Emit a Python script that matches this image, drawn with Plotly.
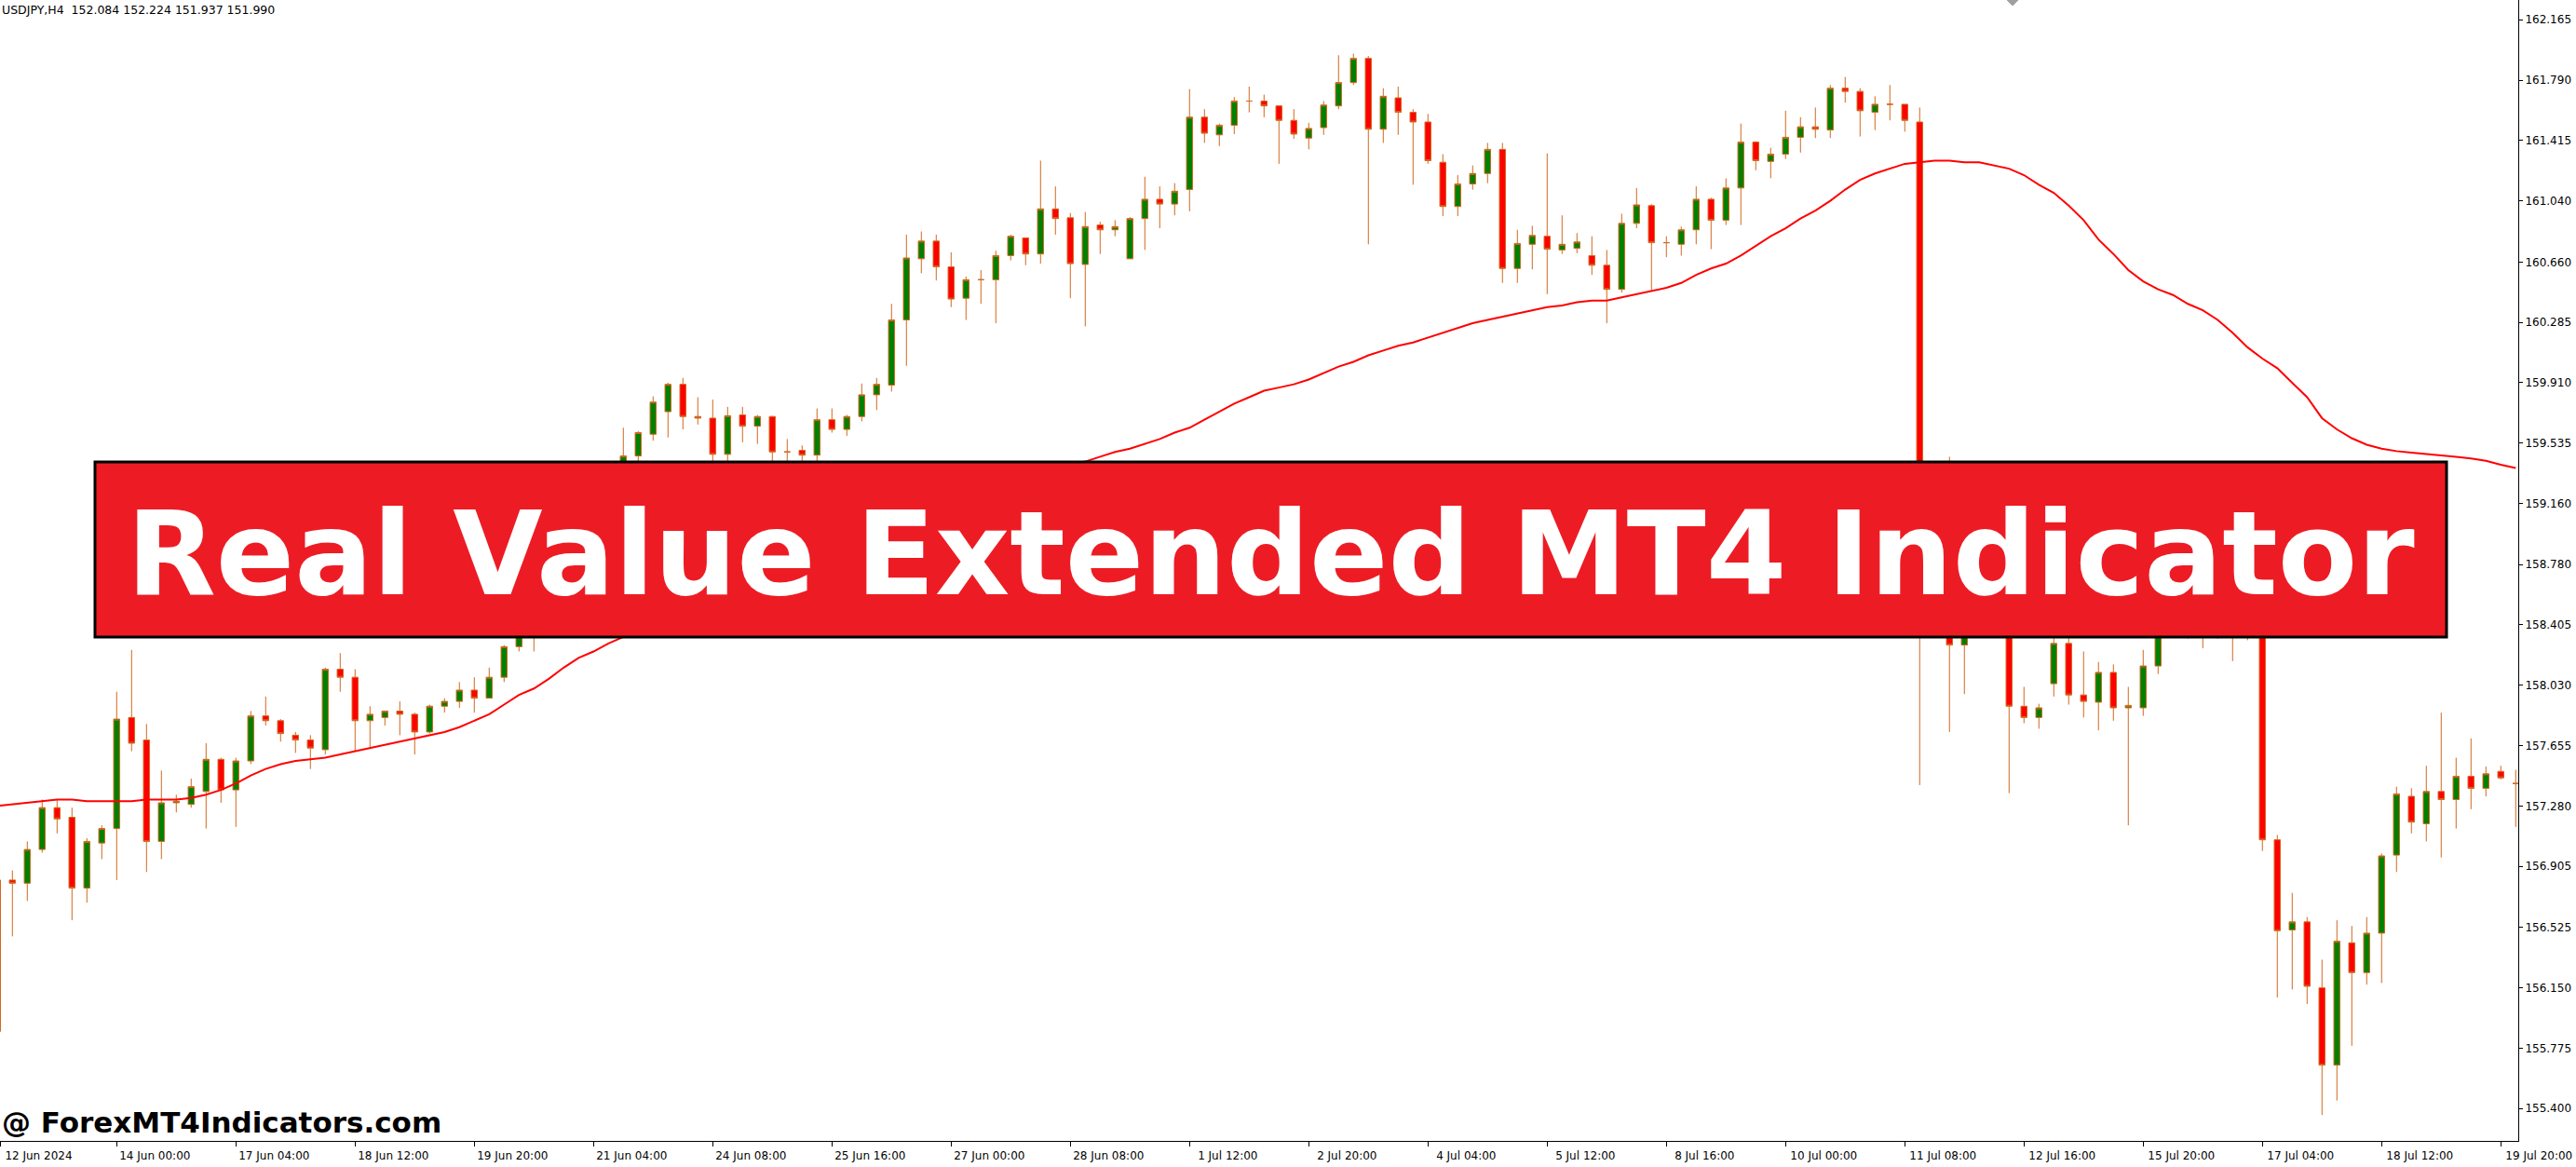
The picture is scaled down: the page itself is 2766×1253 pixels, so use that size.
import plotly.graph_objects as go

# ---------------- data (USDJPY H4, bar index 0..169) ----------------
opens = [155.88,156.82,156.80,157.01,157.27,157.21,156.77,157.05,157.14,157.83,
         157.69,157.06,157.30,157.29,157.37,157.57,157.38,157.56,157.84,157.81,
         157.72,157.69,157.63,158.13,158.08,157.81,157.83,157.87,157.85,157.74,
         157.90,157.93,158.00,157.95,158.08,158.27,158.37,158.47,158.66,158.88,
         159.02,159.18,159.34,159.455,159.59,159.73,159.90,159.70,159.69,159.465,
         159.71,159.64,159.70,159.48,159.49,159.46,159.68,159.62,159.70,159.835,
         159.895,160.30,160.68,160.79,160.63,160.435,160.55,160.55,160.70,160.81,
         160.71,160.99,160.935,160.645,160.89,160.86,160.68,160.93,161.05,161.02,
         161.11,161.56,161.45,161.51,161.66,161.66,161.63,161.54,161.43,161.495,
         161.63,161.775,161.925,161.485,161.68,161.59,161.53,161.28,161.005,161.145,
         161.21,161.36,160.62,160.77,160.82,160.735,160.745,160.70,160.64,160.49,
         160.90,161.01,160.78,160.77,160.86,161.05,160.92,161.12,161.405,161.285,
         161.33,161.435,161.50,161.48,161.74,161.72,161.59,161.64,161.64,161.53,
         158.45,158.80,158.28,158.50,158.65,158.55,157.90,157.83,158.04,158.29,
         157.97,157.925,158.11,157.89,157.89,158.15,158.45,158.55,158.50,158.45,
         158.52,158.42,158.40,157.07,156.51,156.56,156.15,155.67,156.43,156.245,
         156.49,156.975,157.34,157.17,157.37,157.32,157.465,157.39,157.495,157.42]
highs = [156.83,156.88,157.06,157.32,157.32,157.27,157.08,157.16,157.99,158.25,
         157.79,157.50,157.35,157.45,157.67,157.58,157.58,157.87,157.96,157.82,
         157.74,157.72,158.14,158.23,158.13,157.90,157.87,157.93,157.86,157.91,
         157.95,158.05,158.08,158.14,158.28,158.40,158.52,158.72,158.95,159.12,
         159.25,159.40,159.63,159.61,159.825,159.91,159.94,159.82,159.805,159.76,
         159.76,159.71,159.705,159.56,159.52,159.75,159.75,159.71,159.905,159.94,
         160.40,160.83,160.85,160.83,160.72,160.57,160.61,160.73,160.83,160.81,
         161.29,161.13,160.965,160.97,160.91,160.92,160.94,161.19,161.13,161.15,
         161.735,161.61,161.52,161.685,161.75,161.70,161.63,161.61,161.525,161.66,
         161.945,161.955,161.94,161.74,161.75,161.61,161.58,161.33,161.20,161.26,
         161.40,161.40,160.86,160.885,161.335,160.95,160.84,160.82,160.735,160.96,
         161.12,161.02,160.82,160.88,161.13,161.06,161.18,161.52,161.41,161.37,
         161.60,161.56,161.62,161.76,161.81,161.74,161.69,161.76,161.64,161.62,
         158.90,159.45,158.70,158.75,158.80,158.70,158.02,157.915,158.38,158.38,
         158.24,158.175,158.16,158.02,158.25,158.55,158.65,158.70,158.62,158.60,
         158.68,158.58,158.50,157.10,156.74,156.59,156.325,156.57,156.535,156.59,
         156.985,157.40,157.39,157.53,157.86,157.58,157.70,157.525,157.53,157.505]
lows = [155.86,156.47,156.69,156.99,157.11,156.57,156.68,156.95,156.82,157.62,
        156.87,156.95,157.24,157.27,157.14,157.30,157.15,157.54,157.78,157.68,
        157.61,157.51,157.60,157.99,157.62,157.64,157.78,157.72,157.60,157.73,
        157.86,157.89,157.86,157.95,158.05,158.24,158.24,158.41,158.58,158.80,
        158.96,159.10,159.30,159.40,159.55,159.57,159.62,159.65,159.38,159.40,
        159.54,159.53,159.38,159.40,159.39,159.40,159.60,159.58,159.67,159.74,
        159.855,160.015,160.59,160.545,160.38,160.30,160.40,160.28,160.67,160.64,
        160.65,160.83,160.435,160.26,160.71,160.82,160.68,160.735,160.87,160.95,
        160.975,161.40,161.38,161.455,161.59,161.56,161.27,161.425,161.36,161.45,
        161.61,161.76,160.77,161.40,161.45,161.14,161.27,160.945,160.945,161.11,
        161.15,160.53,160.53,160.615,160.46,160.71,160.715,160.58,160.28,160.47,
        160.87,160.48,160.69,160.70,160.77,160.74,160.89,160.89,161.23,161.18,
        161.30,161.34,161.43,161.43,161.65,161.44,161.48,161.54,161.47,157.41,
        158.35,157.74,157.975,158.40,158.45,157.36,157.795,157.76,157.96,157.91,
        157.83,157.75,157.81,157.16,157.84,158.10,158.36,158.32,158.26,158.32,
        158.18,158.31,157.00,156.09,156.14,156.05,155.36,155.45,155.79,156.17,
        156.18,156.87,157.11,157.06,156.96,157.14,157.26,157.34,157.445,157.15]
closes = [156.82,156.80,157.01,157.27,157.20,156.77,157.06,157.14,157.82,157.67,
          157.06,157.30,157.31,157.40,157.57,157.38,157.56,157.84,157.81,157.73,
          157.69,157.64,158.13,158.08,157.81,157.85,157.87,157.85,157.74,157.90,
          157.93,158.00,157.95,158.08,158.27,158.37,158.47,158.66,158.88,159.02,
          159.18,159.34,159.455,159.60,159.79,159.90,159.70,159.69,159.465,159.705,
          159.64,159.70,159.48,159.48,159.46,159.68,159.62,159.70,159.835,159.90,
          160.30,160.685,160.79,160.63,160.43,160.55,160.55,160.70,160.82,160.71,
          160.99,160.93,160.65,160.88,160.86,160.88,160.93,161.05,161.02,161.10,
          161.56,161.46,161.51,161.66,161.66,161.63,161.54,161.455,161.49,161.635,
          161.775,161.925,161.485,161.69,161.59,161.53,161.29,161.005,161.145,161.21,
          161.36,160.62,160.775,160.825,160.74,160.77,160.785,160.64,160.49,160.90,
          161.015,160.78,160.78,160.86,161.05,160.92,161.12,161.405,161.29,161.33,
          161.435,161.50,161.485,161.74,161.72,161.60,161.64,161.64,161.54,158.45,
          158.80,158.28,158.50,158.65,158.55,157.90,157.83,157.89,158.29,157.97,
          157.93,158.11,157.89,157.905,158.15,158.45,158.55,158.50,158.45,158.52,
          158.42,158.40,157.07,156.505,156.56,156.16,155.67,156.44,156.245,156.49,
          156.97,157.355,157.18,157.37,157.32,157.465,157.39,157.48,157.455,157.42]
real_value_ext = [157.28,157.29,157.30,157.31,157.32,157.32,157.31,157.31,157.31,157.31,
                  157.32,157.32,157.32,157.33,157.35,157.38,157.42,157.47,157.51,157.54,
                  157.56,157.57,157.58,157.60,157.62,157.64,157.66,157.68,157.70,157.72,
                  157.74,157.77,157.81,157.85,157.91,157.97,158.01,158.07,158.14,158.20,
                  158.24,158.29,158.33,158.39,158.45,158.52,158.58,158.64,158.70,158.74,
                  158.78,158.82,158.86,158.89,158.92,158.95,158.98,159.01,159.04,159.07,
                  159.10,159.13,159.16,159.19,159.22,159.24,159.26,159.28,159.30,159.33,
                  159.36,159.38,159.40,159.42,159.45,159.48,159.50,159.53,159.56,159.60,
                  159.63,159.68,159.73,159.78,159.82,159.86,159.88,159.90,159.93,159.97,
                  160.01,160.04,160.08,160.11,160.14,160.16,160.19,160.22,160.25,160.28,
                  160.30,160.32,160.34,160.36,160.38,160.39,160.41,160.42,160.42,160.44,
                  160.46,160.48,160.50,160.53,160.58,160.62,160.65,160.70,160.76,160.82,
                  160.87,160.93,160.98,161.04,161.11,161.17,161.21,161.24,161.27,161.28,
                  161.29,161.29,161.28,161.28,161.26,161.24,161.20,161.14,161.09,161.01,
                  160.92,160.80,160.71,160.61,160.54,160.49,160.455,160.40,160.36,160.30,
                  160.22,160.13,160.06,160.00,159.91,159.82,159.69,159.62,159.565,159.525,
                  159.50,159.485,159.475,159.468,159.46,159.45,159.44,159.425,159.40,159.38]

time_tick_bars = [0, 8, 16, 24, 32, 40, 48, 56, 64, 72, 80, 88, 96, 104, 112, 120,
                  128, 136, 144, 152, 160, 168]
time_tick_labels = ["12 Jun 2024", "14 Jun 00:00", "17 Jun 04:00", "18 Jun 12:00",
                    "19 Jun 20:00", "21 Jun 04:00", "24 Jun 08:00", "25 Jun 16:00",
                    "27 Jun 00:00", "28 Jun 08:00", "1 Jul 12:00", "2 Jul 20:00",
                    "4 Jul 04:00", "5 Jul 12:00", "8 Jul 16:00", "10 Jul 00:00",
                    "11 Jul 08:00", "12 Jul 16:00", "15 Jul 20:00", "17 Jul 04:00",
                    "18 Jul 12:00", "19 Jul 20:00"]
price_ticks = [162.165, 161.790, 161.415, 161.040, 160.660, 160.285, 159.910, 159.535,
               159.160, 158.780, 158.405, 158.030, 157.655, 157.280, 156.905, 156.525,
               156.150, 155.775, 155.400]

header_text = "USDJPY,H4  152.084 152.224 151.937 151.990"
banner_text = "Real Value Extended MT4 Indicator"
watermark_text = "@ ForexMT4Indicators.com"

# ---------------- figure ----------------
bars = list(range(len(opens)))
W, H = 2766, 1253
ML, MR, MT, MB = 0, 62, 0, 28
plot_w, plot_h = W - ML - MR, H - MT - MB

x_lo, x_hi = 0.169, 169.17
tick_vals = [max(v, x_lo + 0.03) for v in time_tick_bars]

fig = go.Figure()
fig.add_trace(go.Candlestick(
    x=bars, open=opens, high=highs, low=lows, close=closes,
    increasing=dict(line=dict(color="#D2691E", width=1), fillcolor="#008000"),
    decreasing=dict(line=dict(color="#D2691E", width=1), fillcolor="#FF0000"),
    whiskerwidth=0, showlegend=False, hoverinfo="skip"))
fig.add_trace(go.Scatter(
    x=bars, y=real_value_ext, mode="lines",
    line=dict(color="#FF0000", width=2), showlegend=False, hoverinfo="skip"))

axis_font = dict(family="DejaVu Sans", size=12, color="#000000")
fig.update_layout(
    width=W, height=H,
    margin=dict(l=ML, r=MR, t=MT, b=MB, pad=0),
    paper_bgcolor="#FFFFFF", plot_bgcolor="#FFFFFF",
    boxgap=0.42,
    showlegend=False,
    xaxis=dict(range=[x_lo, x_hi], rangeslider=dict(visible=False),
               showgrid=False, zeroline=False, showline=True, linecolor="#000000",
               linewidth=1, ticks="outside", ticklen=5, tickcolor="#000000",
               tickvals=tick_vals, ticktext=time_tick_labels, tickfont=axis_font,
               ticklabelshift=41, fixedrange=True),
    yaxis=dict(range=[155.199, 162.288], side="right",
               showgrid=False, zeroline=False, showline=True, linecolor="#000000",
               linewidth=1, ticks="outside", ticklen=4, tickcolor="#000000",
               tickvals=price_ticks, ticktext=[f"{v:.3f}" for v in price_ticks],
               tickfont=axis_font, ticklabelstandoff=0, fixedrange=True),
)

# banner rectangle (pixel positions converted to plot-area fractions)
bx0, bx1, by0, by1 = 102, 2627, 496, 684
fig.add_shape(type="rect", xref="paper", yref="paper",
              x0=bx0 / plot_w, x1=bx1 / plot_w,
              y0=1 - by1 / plot_h, y1=1 - by0 / plot_h,
              fillcolor="#ED1C24", line=dict(color="#000000", width=3), layer="above")
fig.add_annotation(text=f"<b>{banner_text}</b>", xref="paper", yref="paper",
                   x=((bx0 + bx1) / 2) / plot_w, y=1 - 594 / plot_h,
                   xanchor="center", yanchor="middle", showarrow=False,
                   font=dict(family="DejaVu Sans", size=124.5, color="#FFFFFF"))

# small chart-shift marker at the top
sx = 2161
fig.add_shape(type="path", xref="paper", yref="paper",
              path=f"M {(sx-6)/plot_w},1 L {(sx+6)/plot_w},1 L {sx/plot_w},{1-6/plot_h} Z",
              fillcolor="#A0A0A0", line=dict(color="#A0A0A0", width=1), layer="above")

fig.add_annotation(text=header_text, xref="paper", yref="paper", x=0, y=1,
                   xanchor="left", yanchor="top", xshift=0, yshift=-1, showarrow=False,
                   font=dict(family="DejaVu Sans", size=12.5, color="#000000"))
fig.add_annotation(text=f"<b>{watermark_text}</b>", xref="paper", yref="paper",
                   x=0, y=1 - 1205 / plot_h, xanchor="left", yanchor="middle",
                   xshift=0, showarrow=False,
                   font=dict(family="DejaVu Sans", size=31, color="#000000"))

fig.write_html("out.html", config={"displayModeBar": False},
               post_script="document.body.style.margin='0px';")
